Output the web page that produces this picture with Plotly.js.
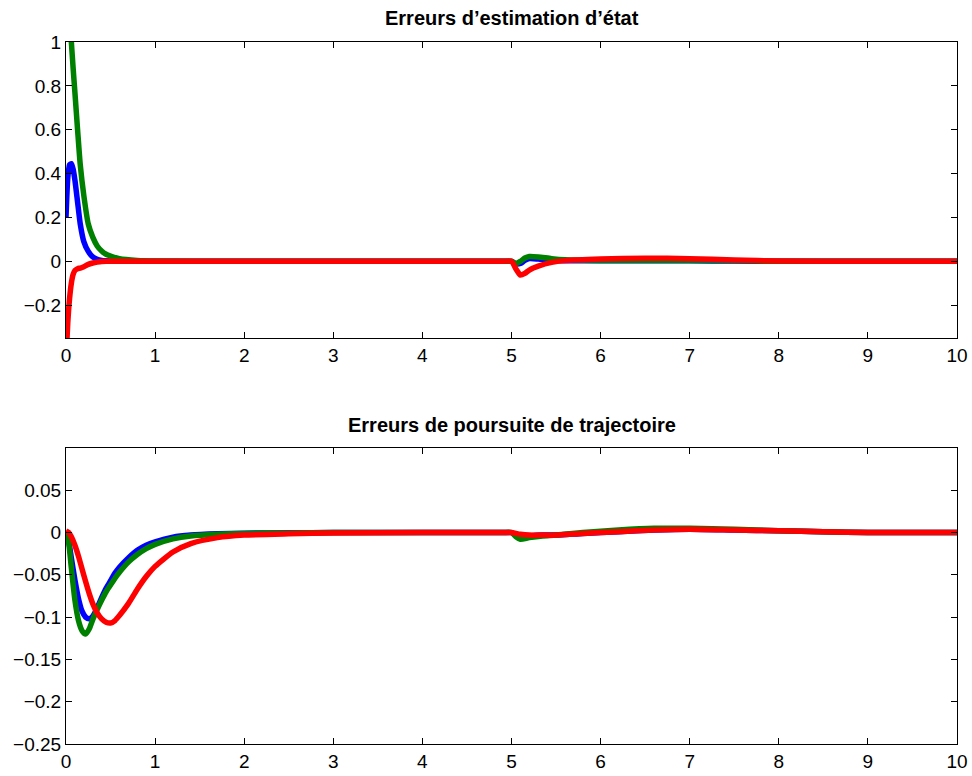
<!DOCTYPE html>
<html>
<head>
<meta charset="utf-8">
<script src="https://cdn.plot.ly/plotly-3.0.1.min.js"></script>
<style>html,body{margin:0;padding:0;background:#fff;}#chart{width:972px;height:776px;}</style>
</head>
<body>
<div id="chart"></div>
<script>
// ---- Data ----
const titleTop = "Erreurs d\u2019estimation d\u2019\u00e9tat";
const titleBottom = "Erreurs de poursuite de trajectoire";

const tTop = [0, 0.02, 0.04, 0.06, 0.08, 0.1, 0.13, 0.16, 0.2, 0.25, 0.3, 0.35, 0.4, 0.45, 0.5, 0.6, 0.8, 1.0, 2, 3, 4, 4.9,
              5.0, 5.05, 5.1, 5.15, 5.2, 5.3, 5.45, 5.6, 6.0, 6.5, 7.0, 7.5, 8.0, 9, 10];
const blueTop = [0.2, 0.38, 0.44, 0.445, 0.42, 0.37, 0.27, 0.17, 0.09, 0.045, 0.02, 0.009, 0.004, 0.002, 0.001, 0, 0, 0, 0, 0, 0, 0,
                 0, -0.012, -0.01, 0.004, 0.012, 0.01, 0.005, 0.003, 0.002, 0.002, 0.002, 0.001, 0, 0, 0];
const greenTop = [1.4, 1.25, 1.12, 1.0, 0.88, 0.77, 0.6, 0.44, 0.3, 0.17, 0.11, 0.07, 0.047, 0.032, 0.024, 0.012, 0.004, 0.001, 0, 0, 0, 0,
                  0, -0.01, 0.0, 0.015, 0.022, 0.02, 0.012, 0.007, 0.004, 0.004, 0.004, 0.002, 0, 0, 0];
const redTop = [-0.45, -0.28, -0.17, -0.1, -0.06, -0.042, -0.034, -0.031, -0.025, -0.014, -0.008, -0.004, -0.001, 0, 0, 0, 0, 0, 0, 0, 0, 0,
                0, -0.035, -0.063, -0.055, -0.04, -0.022, -0.005, 0.003, 0.01, 0.014, 0.012, 0.006, 0.001, 0, 0];

const tBot = [0, 0.03, 0.06, 0.1, 0.14, 0.18, 0.22, 0.26, 0.3, 0.35, 0.4, 0.45, 0.5, 0.55, 0.6, 0.7, 0.8, 0.9, 1.0, 1.2, 1.4, 1.7, 2.0, 2.5, 3, 4, 4.9,
              5.0, 5.05, 5.1, 5.2, 5.35, 5.5, 5.8, 6.2, 6.6, 7.0, 7.5, 8.0, 8.5, 9, 10];
const blueBot = [0, -0.01, -0.03, -0.056, -0.078, -0.093, -0.1, -0.102, -0.099, -0.089, -0.077, -0.066, -0.057, -0.048, -0.041, -0.03, -0.021, -0.015, -0.011, -0.0055, -0.003, -0.0015, -0.0008, -0.0003, 0, 0, 0,
                 0, -0.003, -0.005, -0.004, -0.003, -0.003, -0.001, 0.001, 0.003, 0.004, 0.003, 0.002, 0.001, 0, 0];
const greenBot = [0, -0.012, -0.042, -0.08, -0.104, -0.116, -0.12, -0.114, -0.103, -0.091, -0.08, -0.07, -0.062, -0.054, -0.047, -0.035, -0.026, -0.019, -0.014, -0.0075, -0.004, -0.002, -0.001, -0.0004, 0, 0, 0,
                  0, -0.005, -0.008, -0.006, -0.004, -0.003, 0, 0.003, 0.005, 0.005, 0.004, 0.002, 0.001, 0, 0];
const redBot = [0.002, 0.0, -0.005, -0.015, -0.028, -0.043, -0.058, -0.072, -0.084, -0.095, -0.102, -0.106, -0.107, -0.104, -0.098, -0.084, -0.067, -0.052, -0.04, -0.023, -0.013, -0.006, -0.003, -0.0015, -0.0005, 0, 0,
                0, -0.001, -0.002, -0.003, -0.003, -0.003, -0.001, 0.001, 0.003, 0.004, 0.003, 0.002, 0.001, 0, 0];

const xTicks = [0, 1, 2, 3, 4, 5, 6, 7, 8, 9, 10];
const yTicksTop = [-0.2, 0, 0.2, 0.4, 0.6, 0.8, 1];
const yTicksBot = [-0.25, -0.2, -0.15, -0.1, -0.05, 0, 0.05];

// ---- Styles ----
const colors = {blue: "#0000ff", green: "#008000", red: "#ff0000"};
const lw = 5.5;
function tr(x, y, c, xa, ya) {
  return {x: x, y: y, type: "scatter", mode: "lines", xaxis: xa, yaxis: ya,
          line: {color: c, width: lw, shape: "spline", smoothing: 0.6}, showlegend: false, hoverinfo: "skip"};
}
const data = [
  tr(tTop, blueTop, colors.blue, "x", "y"),
  tr(tTop, greenTop, colors.green, "x", "y"),
  tr(tTop, redTop, colors.red, "x", "y"),
  tr(tBot, blueBot, colors.blue, "x2", "y2"),
  tr(tBot, greenBot, colors.green, "x2", "y2"),
  tr(tBot, redBot, colors.red, "x2", "y2")
];

const font = {family: "Liberation Sans, Arial, Helvetica, sans-serif", size: 19, color: "#000"};
const axBase = {showline: true, linecolor: "#000", linewidth: 1, mirror: "ticks", ticks: "inside",
                ticklen: 6, tickwidth: 1, tickcolor: "#000", showgrid: false, zeroline: false,
                tickfont: font, fixedrange: true};

const layout = {
  width: 972, height: 776,
  margin: {l: 66, r: 15, t: 42, b: 32},
  paper_bgcolor: "#fff", plot_bgcolor: "#fff",
  font: font,
  showlegend: false,
  xaxis: Object.assign({}, axBase, {domain: [0, 1], range: [0, 10], tickvals: xTicks, anchor: "y"}),
  yaxis: Object.assign({}, axBase, {domain: [0.5783, 1], range: [-0.35, 1], tickvals: yTicksTop, anchor: "x"}),
  xaxis2: Object.assign({}, axBase, {domain: [0, 1], range: [0, 10], tickvals: xTicks, anchor: "y2"}),
  yaxis2: Object.assign({}, axBase, {domain: [0, 0.4217], range: [-0.25, 0.1], tickvals: yTicksBot, anchor: "x2"}),
  annotations: [
    {text: "<b>" + titleTop + "</b>", xref: "paper", yref: "paper", x: 0.5, y: 1.0342, xanchor: "center", yanchor: "middle",
     showarrow: false, font: {family: font.family, size: 20, color: "#000"}},
    {text: "<b>" + titleBottom + "</b>", xref: "paper", yref: "paper", x: 0.5, y: 0.4544, xanchor: "center", yanchor: "middle",
     showarrow: false, font: {family: font.family, size: 20, color: "#000"}}
  ]
};

Plotly.newPlot("chart", data, layout, {staticPlot: true, displayModeBar: false});
</script>
</body>
</html>
